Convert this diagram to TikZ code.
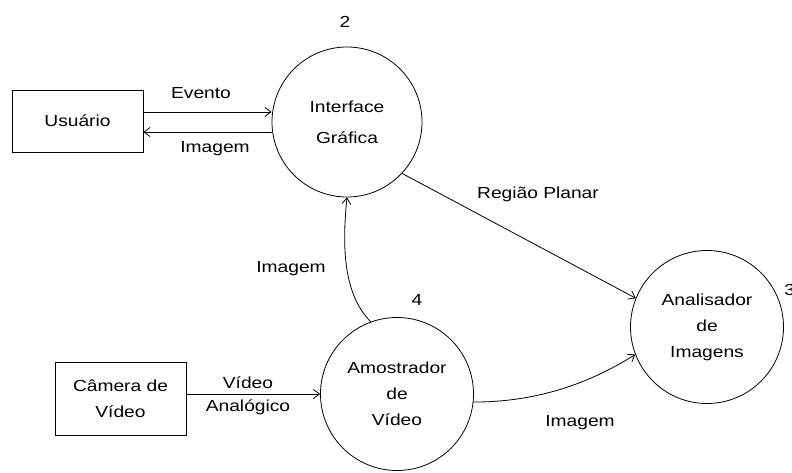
\documentclass[tikz,border=0pt]{standalone}
\usepackage{fontspec}
\setmainfont[FakeStretch=1.2]{Liberation Sans}
\usetikzlibrary{arrows.meta}

\begin{document}
\begin{tikzpicture}[x=1pt,y=-1pt,inner sep=0pt,line width=0.8pt,
  font=\fontsize{16}{26}\selectfont,
  ent/.style={draw,minimum width=131pt,align=center},
  proc/.style={draw,circle,minimum size=153pt,align=center},
  flow/.style={-{Straight Barb[length=6pt,width=9pt]}}]
\useasboundingbox (0,0) rectangle (792,472);
\node[ent,minimum height=62pt] (usr) at (77.5,121) {Usuário};
\node[ent,minimum height=73pt] (cam) at (120.5,398.5) {Câmera de\\Vídeo};
\node[proc,minimum size=150pt] (gui) at (347,122) {Interface\\[5pt]Gráfica};
\node[proc] (amo) at (397,394) {Amostrador\\de\\Vídeo};
\node[proc] (ana) at (707,327) {Analisador\\de\\Imagens};
\node (n2) at (345,22) {2};
\node (n4) at (417,300) {4};
\node[anchor=west] (n3) at (784,290) {3};

\draw[flow] ([yshift=9pt]usr.east) -- ([yshift=9pt]usr.east -| gui.west);
\draw[flow] ([yshift=-11pt]usr.east -| gui.west) -- ([yshift=-11pt]usr.east);
\node (evt) at (201,93) {Evento};
\node (img1) at (215,149) {Imagem};

\draw[flow] (gui.-43) -- (ana.158);
\node (reg) at (538,194) {Região Planar};

\draw[flow] (amo.110) .. controls +(-30,-30) and +(-4,40) .. (gui.south);
\node (img2) at (291,269) {Imagem};

\draw[flow] (cam.east |- amo.west) -- (amo.west);
\node (vid) at (248,383) {Vídeo};
\node (anl) at (248,407) {Analógico};

\draw[flow] (amo.-6) .. controls +(70,0) and +(-40,25) .. (ana.201);
\node (img3) at (580,423) {Imagem};
\end{tikzpicture}
\end{document}
